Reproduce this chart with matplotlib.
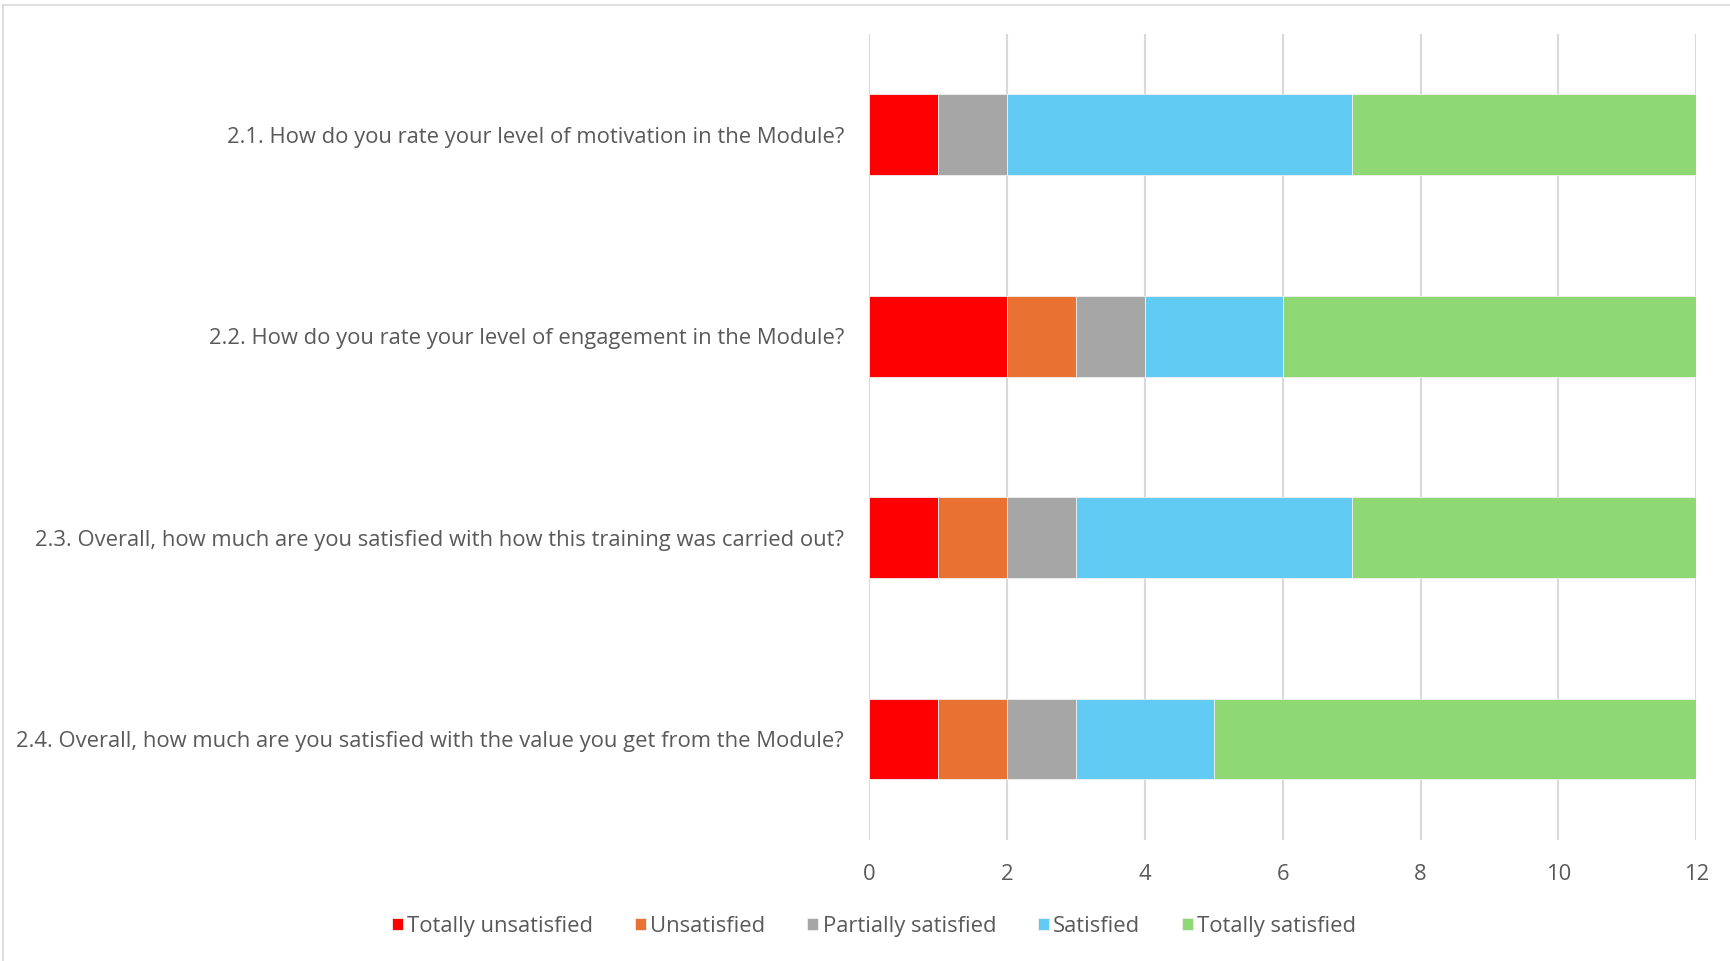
import matplotlib.pyplot as plt
from matplotlib.lines import Line2D
import numpy as np

questions = [
    '2.1. How do you rate your level of motivation in the Module?',
    '2.2. How do you rate your level of engagement in the Module?',
    '2.3. Overall, how much are you satisfied with how this training was carried out?',
    '2.4. Overall, how much are you satisfied with the value you get from the Module?',
]
levels = ['Totally unsatisfied', 'Unsatisfied', 'Partially satisfied', 'Satisfied', 'Totally satisfied']
totally_unsatisfied = [1, 2, 1, 1]
unsatisfied = [0, 1, 1, 1]
partially_satisfied = [1, 1, 1, 1]
satisfied = [5, 2, 4, 2]
totally_satisfied = [5, 6, 5, 7]
colors = ['#FF0000', '#E97132', '#A6A6A6', '#61CBF3', '#8ED973']

plt.rcParams['font.family'] = ['Open Sans', 'DejaVu Sans']
text_col = '#595959'

fig = plt.figure(figsize=(17.31, 9.61), dpi=100)
ax = fig.add_axes([0.502, 0.126, 0.478, 0.8386])

series = [totally_unsatisfied, unsatisfied, partially_satisfied, satisfied, totally_satisfied]
y = np.arange(len(questions))
left = np.zeros(len(questions))
for name, vals, c in zip(levels, series, colors):
    ax.barh(y, vals, left=left, height=0.4, color=c, label=name,
            edgecolor='#f0f0f0', linewidth=0.6, zorder=3)
    left += np.array(vals)

ax.set_xlim(0, 12)
ax.set_ylim(len(questions) - 0.5, -0.5)
ax.set_xticks(range(0, 13, 2))
ax.set_yticks(y)
ax.set_yticklabels(questions)
ax.grid(axis='x', color='#d9d9d9', linewidth=1.5, zorder=0)
for s in ax.spines.values():
    s.set_visible(False)
ax.tick_params(axis='both', length=0, colors=text_col, labelsize=15.8)
ax.tick_params(axis='y', pad=18)
ax.tick_params(axis='x', pad=17)

fig.legend(loc='center', bbox_to_anchor=(0.505, 0.036), ncol=5, frameon=False,
           fontsize=15.8, handlelength=0.5, handleheight=0.5, handletextpad=0.2,
           columnspacing=1.9, labelcolor=text_col)

# thin frame on the top and left of the chart area
fig.add_artist(Line2D([0.0015, 1], [0.9948, 0.9948], color='#d9d9d9', linewidth=1.2))
fig.add_artist(Line2D([0.0015, 0.0015], [0, 0.9948], color='#d9d9d9', linewidth=1.2))

fig.savefig('out.png', dpi=100)
